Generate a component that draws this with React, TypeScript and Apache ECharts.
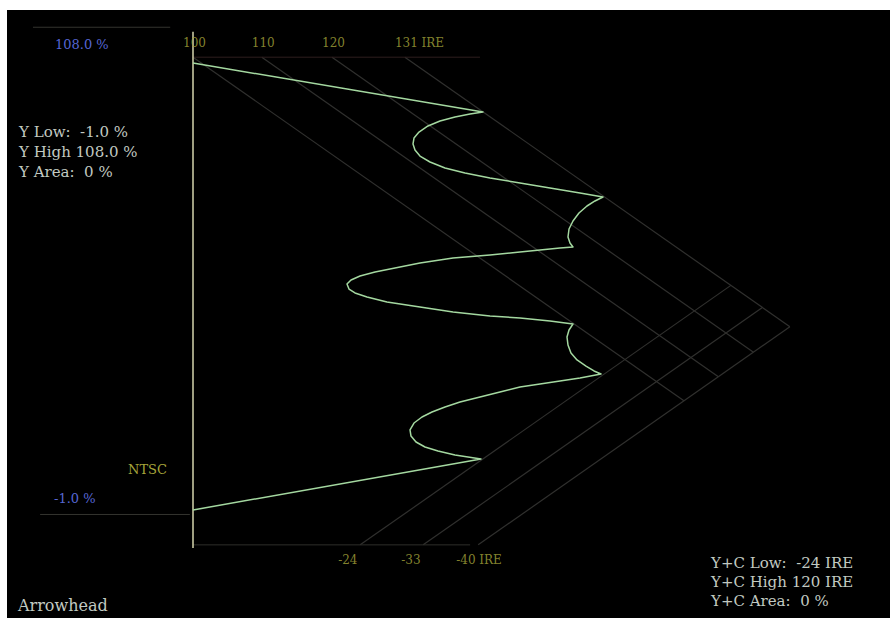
import React, { useEffect, useRef } from "react";
import * as echarts from "echarts";

// Trace: x = chroma excursion (display units), y = luma (%)
const traceX = [0, 64.88, 61.97, 58.61, 55.26, 52.57, 50.56, 49.44, 49.22, 49.66, 50.78, 53.02, 56.38, 60.85, 66.44, 73.15, 79.87, 86.58, 91.72, 89.93, 88.14, 86.35, 85.01, 84.12, 83.89, 84.34, 85.01, 82.10, 77.63, 73.15, 66.44, 58.17, 50.78, 45.19, 40.72, 37.36, 35.35, 34.45, 34.90, 36.24, 38.93, 43.40, 50.78, 58.17, 66.44, 73.15, 79.87, 85.01, 84.12, 83.67, 83.89, 84.56, 85.91, 87.92, 89.71, 91.28, 86.58, 82.10, 77.63, 73.15, 68.68, 64.21, 59.73, 56.38, 53.47, 51.23, 49.44, 48.55, 48.77, 49.89, 51.90, 54.81, 58.61, 64.43, 0];
const traceY = [100, 89.04, 88.59, 87.92, 87.02, 85.91, 84.56, 83.22, 81.88, 80.54, 79.19, 77.85, 76.51, 75.39, 74.27, 73.15, 72.04, 70.92, 70.02, 69.13, 68.01, 66.44, 64.65, 62.86, 61.07, 59.73, 58.84, 58.61, 58.17, 57.72, 57.05, 56.38, 55.26, 54.14, 53.24, 52.35, 51.45, 50.56, 49.44, 48.55, 47.65, 46.53, 45.41, 44.30, 43.40, 42.95, 42.28, 41.61, 40.27, 38.70, 36.91, 35.12, 33.56, 32.21, 31.10, 30.43, 29.53, 28.86, 28.19, 27.52, 26.40, 25.28, 24.16, 23.04, 21.92, 20.81, 19.46, 17.90, 16.55, 15.21, 14.09, 13.20, 12.30, 11.41, 0];

// Graticule
const upperLimitLabels = ["100", "110", "120", "131 IRE"];
const upperStartX = [0, 15.4, 31.1, 47.4];
const lowerLimitLabels = ["-24", "-33", "-40 IRE"];
const lowerStartX = [37.4, 51.5, 63.8];
const upperStartY = 101.3;
const lowerStartY = -7.8;
const diagSlope = 0.7;
const lumaAxisRange = [-8.5, 107];
const highLimit = 108;
const lowLimit = -1;
const highLimitX = [-35.8, -5.1];
const lowLimitX = [-34.2, -0.7];
const topRuleX = [0, 64.2];
const bottomRuleX = [0, 62];

const xRange = [-40, 150];
const yRange = [-10, 110];

export default function App() {
  const ref = useRef<HTMLDivElement>(null);
  useEffect(() => {
    document.body.style.margin = "0";
    const chart = echarts.init(ref.current!, undefined, { renderer: "svg" });

    const outerU = upperStartX[upperStartX.length - 1];
    const outerL = lowerStartX[lowerStartX.length - 1];
    const meet = (su: number, sl: number) => {
      const x = (upperStartY - lowerStartY + diagSlope * (su + sl)) / (2 * diagSlope);
      return [x, upperStartY - diagSlope * (x - su)];
    };

    const segStyle = { color: "#30302e", width: 1.2 };
    const seg = (a: number[], b: number[], style: any) => ({
      type: "line",
      data: [a, b],
      symbol: "none",
      silent: true,
      lineStyle: style,
      z: 1,
    });

    const series: any[] = [];
    upperStartX.forEach((sx) => {
      series.push(seg([sx, upperStartY], meet(sx, outerL), segStyle));
    });
    lowerStartX.forEach((sx) => {
      series.push(seg([sx, lowerStartY], meet(outerU, sx), segStyle));
    });
    series.push(seg([topRuleX[0], upperStartY], [topRuleX[1], upperStartY], { color: "#2e1e1e", width: 1 }));
    series.push(seg([bottomRuleX[0], lowerStartY], [bottomRuleX[1], lowerStartY], { color: "#2e2e2a", width: 1 }));
    series.push(seg([highLimitX[0], highLimit], [highLimitX[1], highLimit], { color: "#34342f", width: 1 }));
    series.push(seg([lowLimitX[0], lowLimit], [lowLimitX[1], lowLimit], { color: "#34342f", width: 1 }));
    series.push(seg([0, lumaAxisRange[0]], [0, lumaAxisRange[1]], { color: "#d4d4ac", width: 1.5 }));

    series.push({
      type: "line",
      data: traceX.map((x, i) => [x, traceY[i]]),
      symbol: "none",
      smooth: false,
      silent: true,
      lineStyle: { color: "#a4d8a0", width: 1.5, join: "round" },
      z: 5,
    });

    const labelFont = "DejaVu Serif";
    series.push({
      type: "scatter",
      symbolSize: 0,
      silent: true,
      data: upperStartX.map((x, i) => ({ value: [x, upperStartY], name: upperLimitLabels[i] })),
      label: {
        show: true,
        formatter: "{b}",
        position: "top",
        align: "left",
        offset: [-10, -3],
        color: "#a6a53a",
        fontFamily: labelFont,
        fontSize: 12,
      },
    });
    series.push({
      type: "scatter",
      symbolSize: 0,
      silent: true,
      data: lowerStartX.map((x, i) => ({ value: [x, lowerStartY], name: lowerLimitLabels[i] })),
      label: {
        show: true,
        formatter: "{b}",
        position: "bottom",
        align: "left",
        offset: [-22, 4],
        color: "#a6a53a",
        fontFamily: labelFont,
        fontSize: 12,
      },
    });

    const txt = (x: number, y: number, text: string, fill: string, size = 15) => ({
      type: "text",
      x,
      y,
      style: { text, fill, font: `${size}px "DejaVu Serif"`, textVerticalAlign: "middle" },
      silent: true,
      z: 10,
    });
    const grey = "#c2cac2";

    chart.setOption({
      animation: false,
      backgroundColor: "#ffffff",
      grid: { left: 14.2, top: 18.3, width: 849.3, height: 536.4, show: false },
      xAxis: { type: "value", min: xRange[0], max: xRange[1], show: false },
      yAxis: { type: "value", min: yRange[0], max: yRange[1], show: false },
      graphic: [
        { type: "rect", shape: { x: 7, y: 10, width: 883, height: 608 }, style: { fill: "#000000" }, z: -10, silent: true },
        txt(55, 44, "108.0 %", "#5666d4", 13),
        txt(19, 132, "Y Low:  -1.0 %", grey),
        txt(19, 152, "Y High 108.0 %", grey),
        txt(19, 172, "Y Area:  0 %", grey),
        txt(128, 469, "NTSC", "#a6a53a", 13),
        txt(54, 498, "-1.0 %", "#5666d4", 13),
        txt(18, 605, "Arrowhead", grey, 16),
        txt(711, 563, "Y+C Low:  -24 IRE", grey),
        txt(711, 582, "Y+C High 120 IRE", grey),
        txt(711, 601, "Y+C Area:  0 %", grey),
      ],
      series,
    });
    return () => chart.dispose();
  }, []);
  return <div ref={ref} style={{ width: 890, height: 618 }} />;
}
